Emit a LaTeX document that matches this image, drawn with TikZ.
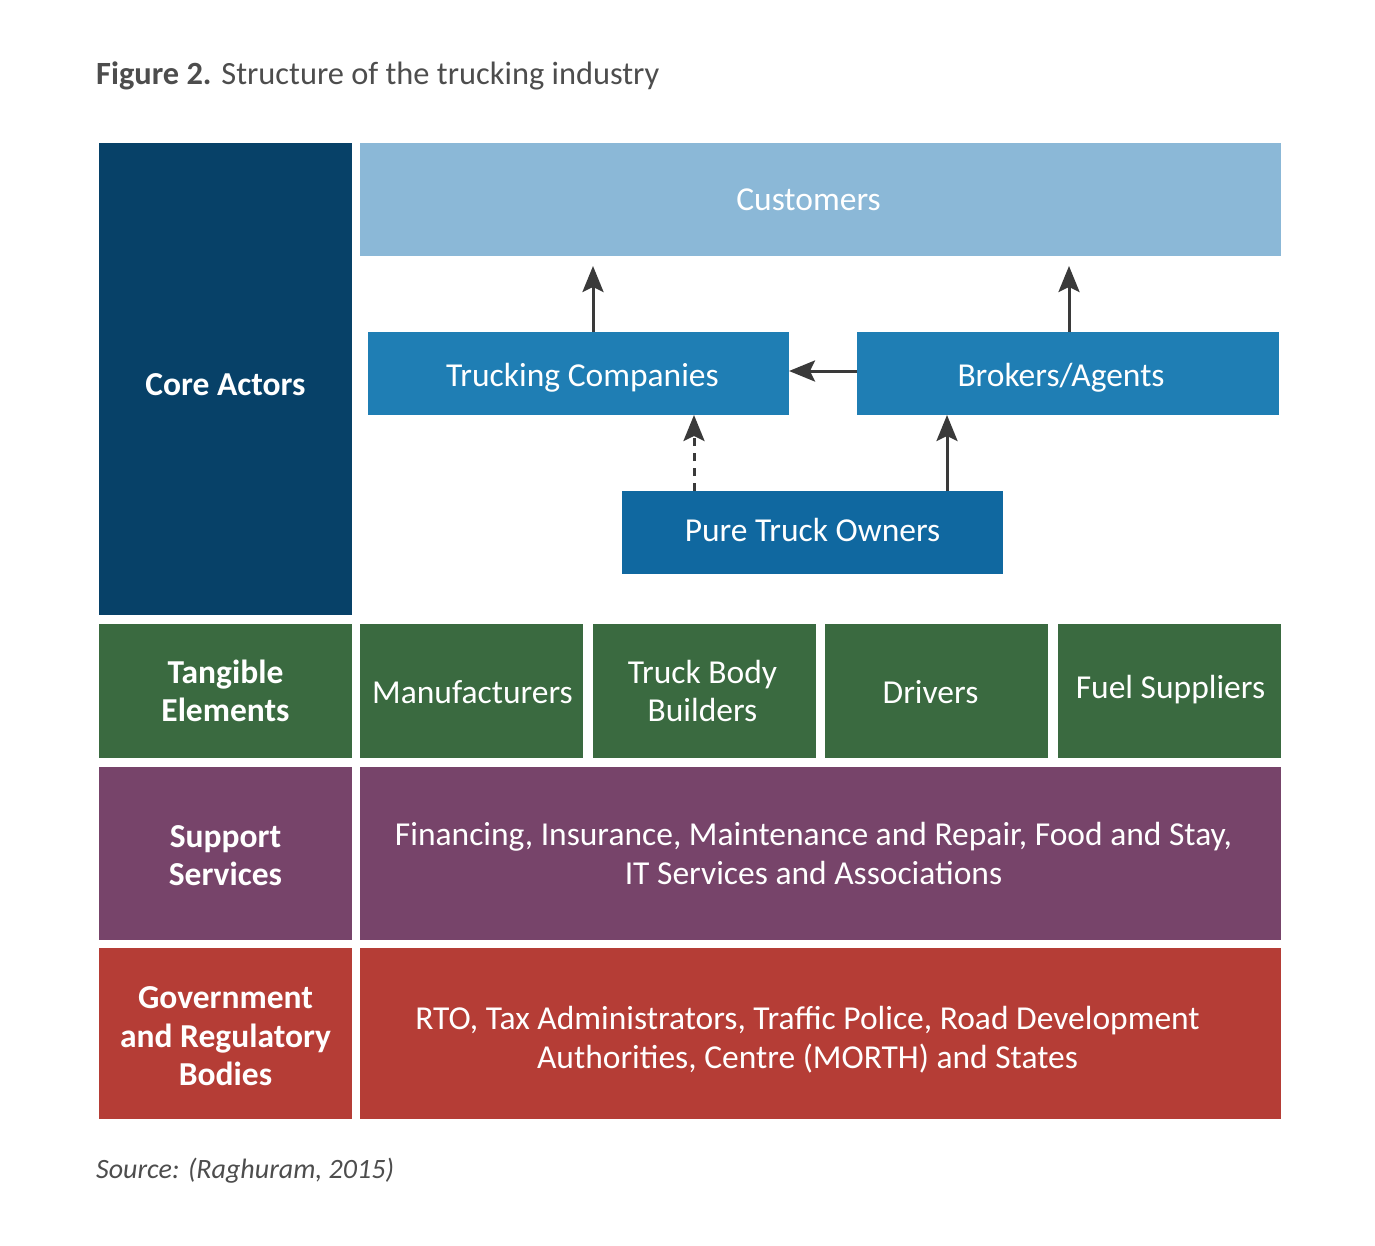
\documentclass[tikz,border=0pt]{standalone}
\usepackage{fontspec}
\setmainfont{Carlito}
\usetikzlibrary{arrows.meta}
\definecolor{coreblue}{HTML}{074168}
\definecolor{custblue}{HTML}{8BB8D7}
\definecolor{midblue}{HTML}{1F7EB4}
\definecolor{ptoblue}{HTML}{1068A0}
\definecolor{tgreen}{HTML}{3A6A40}
\definecolor{spurple}{HTML}{77446A}
\definecolor{gred}{HTML}{B53D36}
\definecolor{arrowgrey}{HTML}{3A3A3A}
\definecolor{captiongrey}{HTML}{4D4D4D}
\begin{document}
\begin{tikzpicture}[x=1pt,y=-1pt,
  bx/.style={rectangle, inner sep=0pt, outer sep=0pt},
  lbl/.style={inner sep=0pt, text=white, align=center, font=\fontsize{33.5}{38.5}\selectfont},
  hlbl/.style={lbl, font=\fontsize{33.5}{38.5}\selectfont\bfseries},
  arr/.style={draw=arrowgrey, line width=3pt, -{Stealth[length=26pt,width=21pt,inset=5pt]}},
]
\useasboundingbox (0,0) rectangle (1375,1245);
% caption
\node[anchor=base west, inner sep=0pt, text=captiongrey, font=\fontsize{32.4}{38}\selectfont] (title) at (96,84)
  {\textbf{Figure 2.} Structure of the trucking industry};
\node[anchor=base west, inner sep=0pt, text=captiongrey, font=\fontsize{28}{34}\selectfont\itshape] (src) at (96,1178)
  {Source: (Raghuram, 2015)};
% core actors boxes
\node[bx, fill=coreblue, minimum width=253, minimum height=472] (core) at (225.5,379) {};
\node[bx, fill=custblue, minimum width=921, minimum height=113] (cust) at (820.5,199.5) {};
\node[bx, fill=midblue, minimum width=421, minimum height=83] (tc) at (578.5,373.5) {};
\node[bx, fill=midblue, minimum width=422, minimum height=83] (ba) at (1068,373.5) {};
\node[bx, fill=ptoblue, minimum width=381, minimum height=83] (pto) at (812.5,532.5) {};
\node[hlbl] (coreL) at ([yshift=-6pt]core.center) {Core Actors};
\node[lbl] (custL) at ([xshift=-12pt]cust.center) {Customers};
\node[lbl] (tcL) at ([xshift=4pt,yshift=-4pt]tc.center) {Trucking Companies};
\node[lbl] (baL) at ([xshift=-7pt,yshift=-4pt]ba.center) {Brokers/Agents};
\node[lbl] (ptoL) at ([yshift=3pt]pto.center) {Pure Truck Owners};
% arrows
\coordinate (c1) at (593,266);
\coordinate (c2) at (1069,266);
\draw[arr] (tc.north -| c1) -- (c1);
\draw[arr] (ba.north -| c2) -- (c2);
\draw[arr] (ba.west |- 0,371) -- (tc.east |- 0,371);
\draw[arr, dash pattern=on 8pt off 7pt] (pto.north -| 694,0) -- (tc.south -| 694,0);
\draw[arr] (pto.north -| 947,0) -- (ba.south -| 947,0);
% tangible
\node[bx, fill=tgreen, minimum width=253, minimum height=134] (tang) at (225.5,691) {};
\node[bx, fill=tgreen, minimum width=223, minimum height=134] (man) at (471.5,691) {};
\node[bx, fill=tgreen, minimum width=223, minimum height=134] (tbb) at (704.5,691) {};
\node[bx, fill=tgreen, minimum width=223, minimum height=134] (drv) at (936.5,691) {};
\node[bx, fill=tgreen, minimum width=223, minimum height=134] (fuel) at (1169.5,691) {};
\node[hlbl] (tangL) at (tang.center) {Tangible\\Elements};
\node[lbl] (manL) at ([xshift=1pt,yshift=-1pt]man.center) {Manufacturers};
\node[lbl] (tbbL) at ([xshift=-2pt]tbb.center) {Truck Body\\Builders};
\node[lbl] (drvL) at ([xshift=-6pt,yshift=-1pt]drv.center) {Drivers};
\node[lbl] (fuelL) at ([xshift=1pt,yshift=1pt]fuel.center) {Fuel Suppliers};
% support
\node[bx, fill=spurple, minimum width=253, minimum height=173] (sup) at (225.5,853.5) {};
\node[bx, fill=spurple, minimum width=921, minimum height=173] (supt) at (820.5,853.5) {};
\node[hlbl] (supL) at ([yshift=-2pt]sup.center) {Support\\Services};
\node[lbl] (suptL) at ([xshift=-7pt]supt.center)
  {Financing, Insurance, Maintenance and Repair, Food and Stay,\\IT Services and Associations};
% government
\node[bx, fill=gred, minimum width=253, minimum height=171] (gov) at (225.5,1033.5) {};
\node[bx, fill=gred, minimum width=921, minimum height=171] (govt) at (820.5,1033.5) {};
\node[hlbl] (govL) at ([yshift=-3pt]gov.center) {Government\\and Regulatory\\Bodies};
\node[lbl] (govtL) at ([xshift=-13pt,yshift=-6pt]govt.center)
  {RTO, Tax Administrators, Traffic Police, Road Development\\Authorities, Centre (MORTH) and States};
\end{tikzpicture}
\end{document}
